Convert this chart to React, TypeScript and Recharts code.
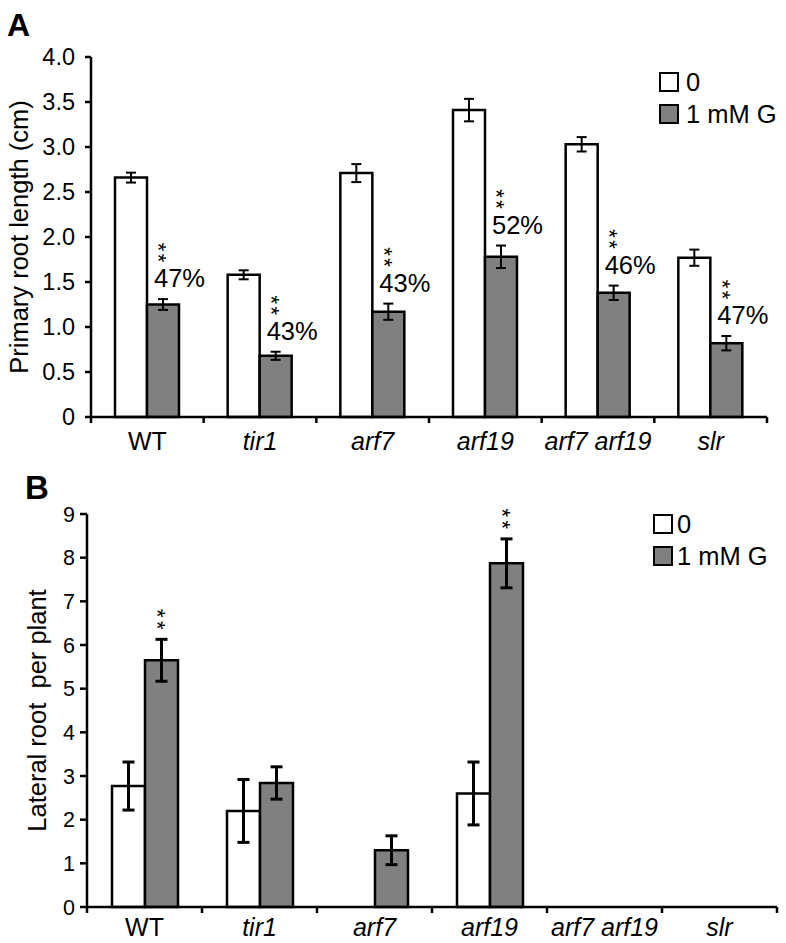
import React from 'react'
import { BarChart, Bar, XAxis, YAxis, ErrorBar, LabelList, Legend } from 'recharts'

const FONT = '"Liberation Sans", Arial, Helvetica, sans-serif'

const genotypes = ['WT', 'tir1', 'arf7', 'arf19', 'arf7 arf19', 'slr']
const seriesNames = ['0', '1 mM G']

// A: primary root length (cm)
const rootLenCtrl = [2.66, 1.58, 2.71, 3.41, 3.03, 1.77]
const rootLenCtrlErr = [0.055, 0.05, 0.1, 0.125, 0.08, 0.09]
const rootLenGlu = [1.25, 0.68, 1.17, 1.78, 1.38, 0.82]
const rootLenGluErr = [0.06, 0.045, 0.09, 0.125, 0.08, 0.08]
const rootLenDrop = ['47%', '43%', '43%', '52%', '46%', '47%']
const ticksA = [0, 0.5, 1, 1.5, 2, 2.5, 3, 3.5, 4]

// B: lateral roots per plant
const latCtrl = [2.77, 2.2, 0, 2.6, 0, 0]
const latCtrlErr = [0.55, 0.72, null, 0.72, null, null]
const latGlu = [5.65, 2.84, 1.3, 7.87, 0, 0]
const latGluErr = [0.48, 0.37, 0.33, 0.56, null, null]
const latSig = ['**', '', '', '**', '', '']
const ticksB = [0, 1, 2, 3, 4, 5, 6, 7, 8, 9]

const dataA = genotypes.map((g, i) => ({
    name: g,
    ctrl: rootLenCtrl[i],
    ctrlErr: rootLenCtrlErr[i],
    glu: rootLenGlu[i],
    gluErr: rootLenGluErr[i],
}))

const dataB = genotypes.map((g, i) => ({
    name: g,
    ctrl: latCtrl[i],
    ctrlErr: latCtrlErr[i] ?? undefined,
    glu: latGlu[i],
    gluErr: latGluErr[i] ?? undefined,
}))

// category label + boundary ticks (ticks sit between groups, not under them)
function makeCatTick(labelDy: number) {
    return function CatTick(props: any) {
        const { x, y, payload, index, width } = props
        const half = payload && payload.offset ? payload.offset : width / genotypes.length / 2
        const name = payload.value
        return (
            <g>
                <line x1={x - half} x2={x - half} y1={y} y2={y + 6} stroke="#000" strokeWidth={2.5} />
                {index === genotypes.length - 1 && (
                    <line x1={x + half} x2={x + half} y1={y} y2={y + 6} stroke="#000" strokeWidth={2.5} />
                )}
                <text
                    x={x}
                    y={y + labelDy}
                    textAnchor="middle"
                    fontSize={25}
                    fontFamily={FONT}
                    fontStyle={name === 'WT' ? 'normal' : 'italic'}
                    fill="#000"
                >
                    {name}
                </text>
            </g>
        )
    }
}

function makeYLabel(text: string, baselineX: number) {
    return function YLabel(props: any) {
        const vb = props.viewBox
        const cy = vb.y + vb.height / 2
        return (
            <text
                x={baselineX}
                y={cy}
                transform={`rotate(-90 ${baselineX} ${cy})`}
                textAnchor="middle"
                fontSize={25.5}
                fontFamily={FONT}
                fill="#000"
                style={{ whiteSpace: 'pre' }}
            >
                {text}
            </text>
        )
    }
}

// "**" set vertically (one star above the other), as in the figure.
// cx = horizontal centre, top = centre of the upper star, step = distance between stars
const STAR_FS = 22
const STAR_ADV = 0.389 * STAR_FS
function Stars({ cx, top, step }: { cx: number; top: number; step: number }) {
    const bx = cx - 0.58 * STAR_FS
    const start = top - STAR_ADV / 2
    return (
        <text
            transform={`translate(${bx} ${start}) rotate(90)`}
            fontSize={STAR_FS}
            fontFamily={FONT}
            fill="#000"
            letterSpacing={step - STAR_ADV}
        >
            **
        </text>
    )
}

function DropLabel(props: any) {
    const vb = props.viewBox || props
    const { x, y, width, height } = vb
    const value = props.value
    const i = props.index ?? rootLenGlu.indexOf(value)
    if (!value) return null
    const errTop = y - (rootLenGluErr[i] * height) / value
    return (
        <g>
            <Stars cx={x + width / 2 + 1} top={errTop - 52} step={11} />
            <text x={x + 7} y={errTop - 12} fontSize={25.5} fontFamily={FONT} fill="#000">
                {rootLenDrop[i]}
            </text>
        </g>
    )
}

function SigLabel(props: any) {
    const vb = props.viewBox || props
    const { x, y, width, height } = vb
    const value = props.value
    const i = props.index ?? latGlu.indexOf(value)
    if (!value || !latSig[i]) return null
    const errTop = y - ((latGluErr[i] ?? 0) * height) / value
    return <Stars cx={x + width / 2 + 1} top={errTop - 26} step={12} />
}

function LegendBox(props: any) {
    const { payload, gap } = props
    return (
        <div style={{ fontFamily: FONT, fontSize: 25.5, color: '#000' }}>
            {(payload || []).map((p: any) => (
                <div key={p.value} style={{ display: 'flex', alignItems: 'center', height: 32, lineHeight: '25px' }}>
                    <span
                        style={{
                            display: 'inline-block',
                            width: 20,
                            height: 20,
                            boxSizing: 'border-box',
                            border: '2.5px solid #000',
                            background: p.color,
                            marginRight: gap,
                        }}
                    />
                    <span>{p.value}</span>
                </div>
            ))}
        </div>
    )
}

const axisLine = { stroke: '#000', strokeWidth: 2.5 }

export default function App() {
    return (
        <div style={{ position: 'absolute', left: 0, top: 0, width: 786, height: 943, background: '#fff' }}>
            <div style={{ position: 'absolute', left: 7, top: 9, fontFamily: FONT, fontWeight: 'bold', fontSize: 32, lineHeight: '32px' }}>
                A
            </div>
            <div style={{ position: 'absolute', left: 25, top: 471, fontFamily: FONT, fontWeight: 'bold', fontSize: 33, lineHeight: '33px' }}>
                B
            </div>

            <div style={{ position: 'absolute', left: 0, top: 0 }}>
                <BarChart
                    width={786}
                    height={460}
                    data={dataA}
                    margin={{ top: 57, right: 19, left: 0, bottom: 0 }}
                    barGap={0}
                    barSize={32}
                >
                    <XAxis
                        dataKey="name"
                        height={43}
                        axisLine={axisLine}
                        tickLine={false}
                        tickSize={0}
                        tickMargin={0}
                        interval={0}
                        tick={makeCatTick(33)}
                    />
                    <YAxis
                        width={91}
                        domain={[0, 4]}
                        ticks={ticksA}
                        axisLine={axisLine}
                        tickLine={{ stroke: '#000', strokeWidth: 2.5 }}
                        tickSize={6}
                        tickMargin={10}
                        tickFormatter={(v: number) => (v === 0 ? '0' : v.toFixed(1))}
                        tick={{ fill: '#000', fontSize: 23.5, fontFamily: FONT }}
                        label={{ content: makeYLabel('Primary root length (cm)', 28) }}
                    />
                    <Legend
                        layout="vertical"
                        align="center"
                        verticalAlign="middle"
                        wrapperStyle={{ left: 659, top: 66, width: 'auto' }}
                        content={<LegendBox gap={7} />}
                    />
                    <Bar dataKey="ctrl" name={seriesNames[0]} fill="#ffffff" stroke="#000" strokeWidth={2.5} isAnimationActive={false}>
                        <ErrorBar dataKey="ctrlErr" width={5} stroke="#000" strokeWidth={2} />
                    </Bar>
                    <Bar dataKey="glu" name={seriesNames[1]} fill="#808080" stroke="#000" strokeWidth={2.5} isAnimationActive={false}>
                        <ErrorBar dataKey="gluErr" width={5} stroke="#000" strokeWidth={2} />
                        <LabelList dataKey="glu" content={DropLabel} />
                    </Bar>
                </BarChart>
            </div>

            <div style={{ position: 'absolute', left: 0, top: 460 }}>
                <BarChart
                    width={786}
                    height={483}
                    data={dataB}
                    margin={{ top: 54, right: 9, left: 0, bottom: 0 }}
                    barGap={0}
                    barSize={33}
                >
                    <XAxis
                        dataKey="name"
                        height={36}
                        axisLine={axisLine}
                        tickLine={false}
                        tickSize={0}
                        tickMargin={0}
                        interval={0}
                        tick={makeCatTick(29)}
                    />
                    <YAxis
                        width={87}
                        domain={[0, 9]}
                        ticks={ticksB}
                        axisLine={axisLine}
                        tickLine={{ stroke: '#000', strokeWidth: 2.5 }}
                        tickSize={7}
                        tickMargin={5}
                        tick={{ fill: '#000', fontSize: 21.5, fontFamily: FONT }}
                        label={{ content: makeYLabel('Lateral root  per plant', 46) }}
                    />
                    <Legend
                        layout="vertical"
                        align="center"
                        verticalAlign="middle"
                        wrapperStyle={{ left: 653, top: 48, width: 'auto' }}
                        content={<LegendBox gap={4} />}
                    />
                    <Bar dataKey="ctrl" name={seriesNames[0]} fill="#ffffff" stroke="#000" strokeWidth={2.5} isAnimationActive={false}>
                        <ErrorBar dataKey="ctrlErr" width={6} stroke="#000" strokeWidth={3} />
                    </Bar>
                    <Bar dataKey="glu" name={seriesNames[1]} fill="#808080" stroke="#000" strokeWidth={2.5} isAnimationActive={false}>
                        <ErrorBar dataKey="gluErr" width={6} stroke="#000" strokeWidth={3} />
                        <LabelList dataKey="glu" content={SigLabel} />
                    </Bar>
                </BarChart>
            </div>
        </div>
    )
}
